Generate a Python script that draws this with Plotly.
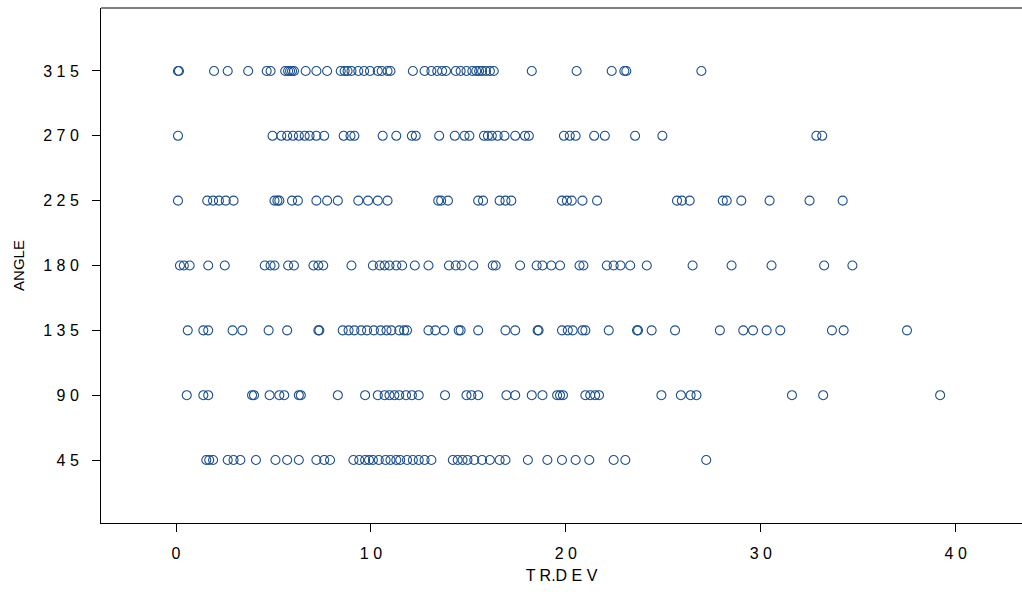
import plotly.graph_objects as go

angles = [45, 90, 135, 180, 225, 270, 315]

dev_315 = [0.1, 0.15, 1.95, 2.65, 3.7, 4.65, 4.85, 5.6, 5.75, 5.85, 5.95, 6.05, 6.65, 7.2, 7.75,
           8.45, 8.65, 8.8, 9.0, 9.35, 9.65, 9.95, 10.35, 10.55, 10.85, 11.0, 12.15, 12.75, 13.1,
           13.4, 13.65, 13.85, 14.35, 14.6, 14.9, 15.2, 15.4, 15.55, 15.7, 15.9, 16.1, 16.3,
           18.25, 20.55, 22.35, 23.0, 23.1, 26.95]
dev_270 = [0.1, 4.95, 5.4, 5.7, 6.0, 6.3, 6.6, 6.85, 7.2, 7.6, 8.6, 8.95, 9.15, 10.6, 11.3, 12.1,
           12.3, 13.5, 14.3, 14.8, 15.05, 15.8, 16.0, 16.2, 16.5, 16.85, 17.4, 17.9, 18.1, 19.9,
           20.2, 20.5, 21.45, 22.0, 23.55, 24.95, 32.85, 33.15]
dev_225 = [0.1, 1.6, 1.9, 2.2, 2.55, 2.95, 5.05, 5.2, 5.3, 5.95, 6.25, 7.2, 7.75, 8.3, 9.35, 9.85,
           10.35, 10.85, 13.45, 13.6, 13.95, 15.5, 15.75, 16.6, 16.9, 17.2, 19.8, 20.05, 20.3,
           20.85, 21.6, 25.7, 25.95, 26.35, 28.05, 28.25, 29.0, 30.45, 32.5, 34.2]
dev_180 = [0.2, 0.4, 0.7, 1.65, 2.5, 4.55, 4.85, 5.05, 5.75, 6.05, 7.05, 7.3, 7.55, 9.0, 10.1,
           10.45, 10.7, 10.95, 11.3, 11.6, 12.25, 12.95, 14.0, 14.35, 14.65, 15.25, 16.25, 16.4,
           17.65, 18.5, 18.8, 19.25, 19.7, 20.7, 20.9, 22.1, 22.45, 22.8, 23.3, 24.15, 26.5,
           28.5, 30.55, 33.25, 34.7]
dev_135 = [0.6, 1.4, 1.65, 2.9, 3.4, 4.75, 5.7, 7.3, 7.35, 8.55, 8.85, 9.15, 9.5, 9.8, 10.15,
           10.5, 10.8, 11.05, 11.45, 11.7, 11.85, 12.95, 13.3, 13.75, 14.5, 14.6, 15.5, 16.9,
           17.4, 18.55, 18.6, 19.8, 20.1, 20.35, 20.85, 21.0, 22.2, 23.65, 23.7, 24.4, 25.6,
           27.9, 29.1, 29.6, 30.3, 31.0, 33.65, 34.25, 37.5]
dev_90 = [0.55, 1.4, 1.65, 3.9, 4.0, 4.8, 5.3, 5.55, 6.3, 6.4, 8.3, 9.7, 10.35, 10.7, 10.95,
          11.2, 11.45, 11.8, 12.1, 12.45, 13.8, 14.9, 15.15, 15.5, 16.95, 17.4, 18.25, 18.8,
          19.55, 19.7, 19.85, 21.0, 21.25, 21.5, 21.7, 24.9, 25.9, 26.4, 26.7, 31.6, 33.2, 39.2]
dev_45 = [1.55, 1.7, 1.9, 2.65, 2.95, 3.3, 4.1, 5.1, 5.7, 6.3, 7.2, 7.6, 7.9, 9.1, 9.4, 9.7,
          9.9, 10.1, 10.4, 10.75, 11.0, 11.3, 11.5, 11.85, 12.15, 12.45, 12.75, 13.1, 14.2,
          14.45, 14.7, 14.95, 15.3, 15.7, 16.1, 16.6, 16.9, 18.05, 19.05, 19.8, 20.5, 21.2,
          22.45, 23.05, 27.2]

x_ticks = [0, 10, 20, 30, 40]
x_tick_labels = ["0", "1 0", "2 0", "3 0", "4 0"]
y_tick_labels = ["4 5", "9 0", "1 3 5", "1 8 0", "2 2 5", "2 7 0", "3 1 5"]
x_title = "T R.D E V"
y_title = "ANGLE"

series = {45: dev_45, 90: dev_90, 135: dev_135, 180: dev_180,
          225: dev_225, 270: dev_270, 315: dev_315}

xs, ys = [], []
for a in angles:
    xs.extend(series[a])
    ys.extend([a] * len(series[a]))

color = "#1b4f8f"
fig = go.Figure(go.Scatter(
    x=xs, y=ys, mode="markers",
    marker=dict(symbol="circle-open", size=9, color=color, line=dict(width=1.1, color=color)),
    showlegend=False,
))

font = dict(family="Liberation Sans, Arial, sans-serif", size=16, color="#000000")
tfont = dict(family="Liberation Sans, Arial, sans-serif", size=15, color="#000000")
fig.update_layout(
    width=1022, height=595,
    margin=dict(l=101, r=0, t=8, b=72),
    paper_bgcolor="white", plot_bgcolor="white",
    font=font,
    xaxis=dict(range=[-3.85, 43.4], tickvals=x_ticks, ticktext=x_tick_labels,
               showgrid=False, zeroline=False, showline=True, linecolor="black", linewidth=1,
               ticks="outside", ticklen=8, tickcolor="black", tickfont=font,
               ticklabelstandoff=8,
               title=dict(text=x_title, standoff=8, font=font)),
    yaxis=dict(range=[1.3, 358.7], tickvals=angles, ticktext=y_tick_labels,
               showgrid=False, zeroline=False, showline=True, linecolor="black", linewidth=1,
               ticks="outside", ticklen=8, tickcolor="black", tickfont=font,
               ticklabelstandoff=10,
               title=dict(text=y_title, standoff=14, font=tfont)),
)
fig.add_shape(type="line", xref="paper", yref="paper", x0=0, x1=1, y0=1, y1=1,
              line=dict(color="black", width=1))
fig.write_html("out.html")
